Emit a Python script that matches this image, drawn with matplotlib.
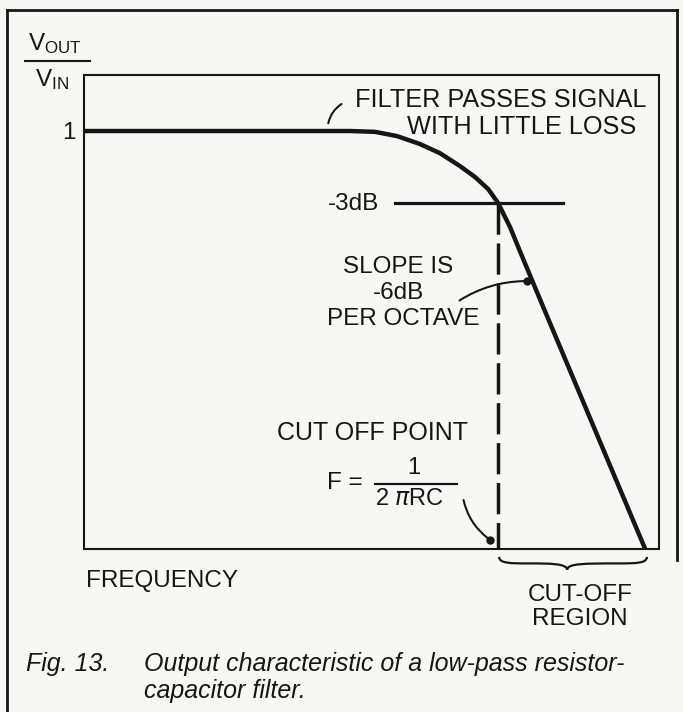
import matplotlib.pyplot as plt
from matplotlib.lines import Line2D
from matplotlib.path import Path
from matplotlib.patches import PathPatch

W, H = 683, 712

# courbe de réponse : fréquence normalisée, Vout/Vin
freq = [0.000, 0.376, 0.463, 0.506, 0.544, 0.584, 0.619, 0.654, 0.680,
        0.703, 0.720, 0.741, 0.758, 0.798, 0.976]
gain = [1.000, 1.000, 1.000, 0.998, 0.988, 0.969, 0.947, 0.916, 0.890,
        0.861, 0.828, 0.770, 0.713, 0.581, 0.000]

f_cut = 0.720      # point de coupure
g_cut = 0.828      # niveau -3dB
db_line = [0.541, 0.833]
slope_pt = (0.770, 0.641)
cut_pt = (0.706, 0.022)

INK = "#161616"
plt.rcParams["font.family"] = ["Liberation Sans", "DejaVu Sans"]

fig = plt.figure(figsize=(W / 100, H / 100), dpi=100, facecolor="#f7f7f5")


def px(x, y):
    """pixels (origine en haut à gauche) -> coordonnées figure"""
    return x / W, 1 - y / H


def texte(x, y, s, ha="left", size=17.5, **kw):
    fig.text(*px(x, y), s, ha=ha, va="center", fontsize=size, color=INK, **kw)


ax = fig.add_axes([84 / W, (H - 549) / H, 575 / W, 474 / H])
ax.set_facecolor("none")
ax.set_xlim(0, 1)
ax.set_ylim(0, 1.134)
ax.set_xticks([])
ax.set_yticks([])
for sp in ax.spines.values():
    sp.set_linewidth(1.5)
    sp.set_color(INK)

ax.plot(freq, gain, color=INK, lw=3.2, solid_capstyle="round",
        solid_joinstyle="round")
ax.plot(db_line, [g_cut, g_cut], color=INK, lw=2.3)
ax.plot([f_cut, f_cut], [g_cut, 0], color=INK, lw=2.5,
        dashes=(9, 2.5))

# traits de renvoi
ax.annotate("", xy=(0.424, 1.012), xytext=(0.452, 1.068),
            arrowprops=dict(arrowstyle="-", lw=1.5, color=INK,
                            connectionstyle="arc3,rad=0.25"))
ax.annotate("", xy=slope_pt, xytext=(0.649, 0.591),
            arrowprops=dict(arrowstyle="-", lw=1.5, color=INK,
                            connectionstyle="arc3,rad=-0.15"))
ax.annotate("", xy=cut_pt, xytext=(0.659, 0.124),
            arrowprops=dict(arrowstyle="-", lw=1.5, color=INK,
                            connectionstyle="arc3,rad=0.2"))
ax.plot(*slope_pt, "o", color=INK, ms=5)
ax.plot(*cut_pt, "o", color=INK, ms=5)

# accolade sous la région coupée
x0, x1 = f_cut + 0.002, freq[-1] + 0.003
xm = x0 + 0.46 * (x1 - x0)
yt, yb = -0.019, -0.05
ym = (yt + yb) / 2
verts = [(x0, yt), (x0, ym), (x0 + 0.02, ym), (x0 + 0.05, ym),
         (xm - 0.03, ym), (xm, ym), (xm, yb),
         (xm, ym), (xm + 0.03, ym), (x1 - 0.05, ym),
         (x1 - 0.02, ym), (x1, ym), (x1, yt)]
codes = [Path.MOVETO] + [Path.CURVE4] * 12
ax.add_patch(PathPatch(Path(verts, codes), fc="none", ec=INK, lw=1.6,
                       clip_on=False))

# cadre extérieur
for xs, ys in [((7, 677), (10, 10)), ((7, 7), (10, 712)),
               ((677, 677), (10, 560))]:
    p0, p1 = px(xs[0], ys[0]), px(xs[1], ys[1])
    fig.add_artist(Line2D([p0[0], p1[0]], [p0[1], p1[1]], color=INK, lw=2))

# étiquette de l'axe vertical
texte(55, 44, r"$\mathregular{V_{OUT}}$", ha="center")
texte(52, 80, r"$\mathregular{V_{IN}}$", ha="center")
a, b = px(25, 61), px(90, 61)
fig.add_artist(Line2D([a[0], b[0]], [a[1], b[1]], color=INK, lw=1.5))
texte(76, 133, "1", ha="right")

texte(355, 100, "FILTER PASSES SIGNAL", size=18.2)
texte(407, 127, "WITH LITTLE LOSS", size=18.2)
texte(328, 204, "-3dB")
texte(398, 267, "SLOPE IS", ha="center")
texte(398, 293, "-6dB", ha="center")
texte(403, 319, "PER OCTAVE", ha="center")
texte(277, 433, "CUT OFF POINT", size=18)
texte(327, 483, "F =")
texte(414, 468, "1", ha="center", size=17)
texte(410, 499, r"2 $\pi$RC", ha="center", size=17)
a, b = px(375, 484), px(457, 484)
fig.add_artist(Line2D([a[0], b[0]], [a[1], b[1]], color=INK, lw=1.6))
texte(86, 581, "FREQUENCY")
texte(580, 595, "CUT-OFF", ha="center")
texte(580, 619, "REGION", ha="center")

texte(26, 664, "Fig. 13.", style="italic", size=18)
texte(144, 664, "Output characteristic of a low-pass resistor-",
      style="italic", size=18)
texte(144, 691, "capacitor filter.", style="italic", size=18)

fig.savefig("out.png", dpi=100, facecolor=fig.get_facecolor())
